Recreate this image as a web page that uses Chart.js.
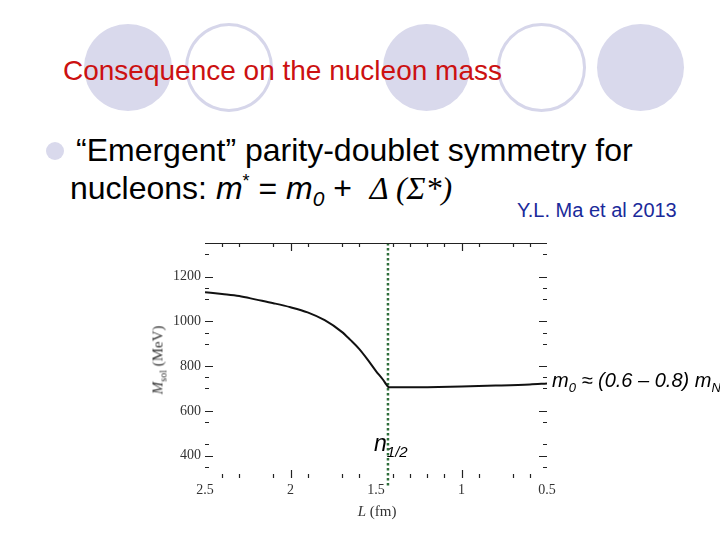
<!DOCTYPE html>
<html><head><meta charset="utf-8">
<script src="https://cdn.jsdelivr.net/npm/chart.js@4.4.1/dist/chart.umd.min.js"></script>
<style>
html,body{margin:0;padding:0;background:#fff;}
#slide{position:relative;width:720px;height:540px;overflow:hidden;font-family:'Liberation Sans',Arial,sans-serif;}
.c{position:absolute;border-radius:50%;box-sizing:border-box;}
.f{background:#d9d9ec;}
.o{border:3px solid #d6d6ea;background:transparent;}
#chart{position:absolute;left:0;top:0;}
.t{position:absolute;white-space:nowrap;line-height:1;}
.serif{font-family:'Liberation Serif','Times New Roman',serif;}
sub,sup{line-height:0;}
</style></head>
<body><div id="slide">
<div class="c f" style="left:84px;top:24px;width:88px;height:87px"></div>
<div class="c o" style="left:185px;top:23px;width:88px;height:89px"></div>
<div class="c f" style="left:383px;top:24px;width:87px;height:87px"></div>
<div class="c o" style="left:497px;top:23px;width:89px;height:89px"></div>
<div class="c f" style="left:597px;top:24px;width:87px;height:87px"></div>
<div class="t" style="left:63px;top:57px;font-size:28px;color:#cc1111">Consequence on the nucleon mass</div>
<div class="c f" style="left:46px;top:142px;width:18px;height:18px"></div>
<div class="t" style="left:76px;top:134px;font-size:32px;color:#000">“Emergent” parity-doublet symmetry for</div>
<div class="t" style="left:70px;top:172px;font-size:32px;color:#000">nucleons: <i>m</i><sup style="font-size:18px">*</sup> = <i>m</i><sub style="font-size:21px"><i>0</i></sub> +&nbsp; <span class="serif" style="font-style:italic">Δ (Σ*)</span></div>
<div class="t" style="left:517px;top:200px;font-size:20px;color:#1a2a9a">Y.L. Ma et al 2013</div>
<canvas id="chart" width="720" height="540"></canvas>
<div class="t" style="left:374px;top:432px;font-size:23px;font-style:italic;color:#000">n<sub style="font-size:15px">1/2</sub></div>
<div class="t" style="left:552px;top:370px;font-size:20px;font-style:italic;color:#000">m<sub style="font-size:13px">0</sub> ≈ (0.6 – 0.8) m<sub style="font-size:13px">N</sub></div>
<div class="t serif" style="left:158px;top:360px;font-size:15px;color:#333;transform:translate(-50%,-50%) rotate(-90deg);"><i>M</i><sub style="font-size:10px">sol</sub> (MeV)</div>
<div class="t serif" style="left:377px;top:511px;font-size:15px;color:#333;transform:translate(-50%,-50%);"><i>L</i> (fm)</div>
</div>
<script>
// Data
const L_fm  = [2.5, 2.4, 2.3, 2.2, 2.1, 2.0, 1.9, 1.8, 1.7, 1.65, 1.6, 1.55, 1.5, 1.46, 1.44, 1.43, 1.42, 1.4, 1.3, 1.2, 1.0, 0.8, 0.6, 0.5];
const M_sol = [1130, 1122, 1113, 1097, 1081, 1063, 1040, 1005, 953, 917, 878, 830, 778, 740, 718, 708, 705, 705, 705, 706, 709, 713, 718, 722];
const nHalf = 1.43;
const nHalfSpan = [1350, 260];
const xRange = [0.5, 2.5];
const yRange = [300, 1350];
const xTickValues = [2.5, 2, 1.5, 1, 0.5];
const xTickLabels = ['2.5', '2', '1.5', '1', '0.5'];
const yTickValues = [400, 600, 800, 1000, 1200];
const yTickLabels = ['400', '600', '800', '1000', '1200'];
const xMarksMajor = [2, 1];
const xMarksMinor = [2.4, 2.3, 2.1, 1.9, 1.7, 1.6, 1.4, 1.3, 1.2, 1.1, 0.9, 0.7, 0.6];
const yMarksMajor = [400, 600, 800, 1000, 1200];
const yMarksMinor = [350, 450, 550, 700, 750, 900, 950, 1100, 1150, 1300];

const tickMarks = {
  id: 'tickMarks',
  afterDatasetsDraw(chart) {
    const {ctx, chartArea: a, scales: {x, y}} = chart;
    ctx.save();
    ctx.strokeStyle = '#222';
    ctx.lineWidth = 1.2;
    ctx.beginPath();
    ctx.moveTo(a.left, a.top + 0.5); ctx.lineTo(a.right, a.top + 0.5);
    const vx = (v, len) => {
      const p = Math.round(x.getPixelForValue(v)) + 0.5;
      ctx.moveTo(p, a.top); ctx.lineTo(p, a.top + len);
      ctx.moveTo(p, a.bottom); ctx.lineTo(p, a.bottom - len);
    };
    const hy = (v, len) => {
      const p = Math.round(y.getPixelForValue(v)) + 0.5;
      ctx.moveTo(a.left, p); ctx.lineTo(a.left + len, p);
      ctx.moveTo(a.right, p); ctx.lineTo(a.right - len, p);
    };
    xMarksMajor.forEach(v => vx(v, 8));
    xMarksMinor.forEach(v => vx(v, 4));
    yMarksMajor.forEach(v => hy(v, 8));
    yMarksMinor.forEach(v => hy(v, 4));
    ctx.stroke();
    ctx.restore();
  }
};

const tickFont = {family: "'Liberation Serif', 'Times New Roman', serif", size: 14};

new Chart(document.getElementById('chart'), {
  type: 'line',
  data: {
    datasets: [
      {
        data: L_fm.map((l, i) => ({x: l, y: M_sol[i]})),
        borderColor: '#111',
        borderWidth: 2,
        pointRadius: 0,
        cubicInterpolationMode: 'monotone',
        fill: false
      },
      {
        data: nHalfSpan.map(v => ({x: nHalf, y: v})),
        borderColor: '#2e6e3a',
        borderWidth: 2.5,
        borderDash: [2.5, 2.5],
        pointRadius: 0,
        clip: false,
        fill: false
      }
    ]
  },
  options: {
    responsive: false,
    animation: false,
    layout: {padding: {left: 160, right: 173, top: 243, bottom: 22}},
    plugins: {legend: {display: false}, tooltip: {enabled: false}},
    scales: {
      x: {
        type: 'linear', min: xRange[0], max: xRange[1], reverse: true,
        afterBuildTicks: s => { s.ticks = xTickValues.map(v => ({value: v})); },
        afterFit: s => { s.height = 40; },
        ticks: {font: tickFont, color: '#333', padding: 4, maxRotation: 0,
                callback: (v, i) => xTickLabels[i]},
        grid: {display: false, drawTicks: false},
        border: {display: false}
      },
      y: {
        type: 'linear', min: yRange[0], max: yRange[1],
        afterBuildTicks: s => { s.ticks = yTickValues.map(v => ({value: v})); },
        afterFit: s => { s.width = 45; },
        ticks: {font: tickFont, color: '#333', padding: 4,
                callback: (v, i) => yTickLabels[i]},
        grid: {display: false, drawTicks: false},
        border: {display: false}
      }
    }
  },
  plugins: [tickMarks]
});
</script>
</body></html>
